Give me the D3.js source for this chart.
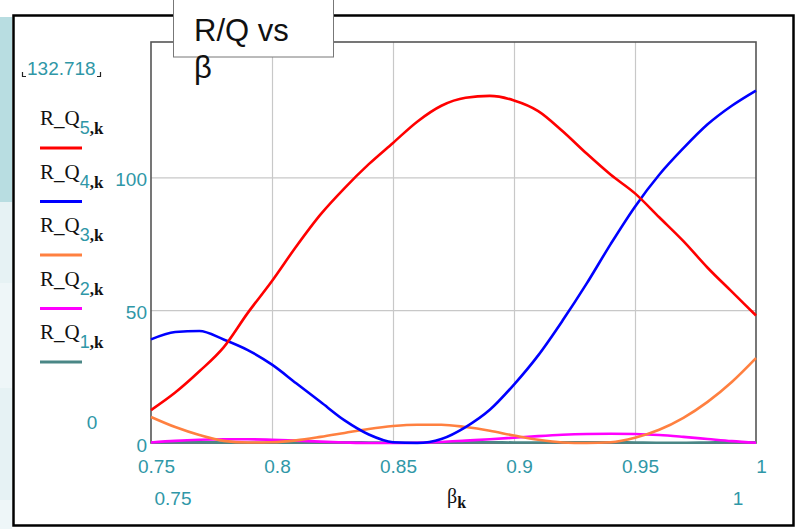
<!DOCTYPE html>
<html>
<head>
<meta charset="utf-8">
<script src="https://cdn.jsdelivr.net/npm/d3@7"></script>
<style>
  html, body { margin: 0; padding: 0; background: #ffffff; }
  svg { display: block; }
</style>
</head>
<body>
<svg id="chart" width="804" height="529"></svg>
<script>
// β sample points (k index)
const beta = [0.75, 0.76, 0.77, 0.78, 0.79, 0.80, 0.81, 0.82, 0.83, 0.84, 0.85, 0.86, 0.87,
              0.88, 0.89, 0.90, 0.91, 0.92, 0.93, 0.94, 0.95, 0.96, 0.97, 0.98, 0.99, 1.00];

// R/Q of each mode vs β
const rq5 = [12.4, 19, 27, 36, 49, 61, 74, 86, 96, 105, 113, 121, 127,
             130, 130.7, 129, 125, 117.5, 109, 101, 94, 85, 76, 66, 57, 48];
const rq4 = [39, 41.8, 42.2, 39, 35, 29.5, 22.5, 15.5, 8.5, 3.2, 0.3, 0, 1.5,
             6, 12.5, 22, 33, 46, 60, 75, 89, 101, 111, 120, 127, 132.718];
const rq3 = [9.8, 6, 3, 0.8, 0.2, 0.3, 1, 2.3, 3.8, 5.3, 6.4, 6.9, 6.9,
             6, 4.6, 2.8, 1.2, 0.2, 0, 0.3, 2, 5, 9.5, 15.5, 23, 32];
const rq2 = [0.2, 0.8, 1.2, 1.4, 1.4, 1.2, 0.9, 0.5, 0.2, 0, 0, 0.1, 0.4,
             0.9, 1.4, 2.0, 2.6, 3.1, 3.4, 3.5, 3.4, 3.0, 2.3, 1.5, 0.7, 0.1];
const rq1 = [0.2, 0.3, 0.3, 0.2, 0.1, 0.1, 0.2, 0.3, 0.3, 0.2, 0.1, 0.1, 0.2,
             0.3, 0.3, 0.2, 0.2, 0.3, 0.3, 0.3, 0.2, 0.1, 0.1, 0.2, 0.3, 0.3];

const seriesNames = ["5", "4", "3", "2", "1"];
const seriesColors = ["#ff0000", "#0000ff", "#ff8040", "#ff00ff", "#4a8786"];
const seriesValues = [rq5, rq4, rq3, rq2, rq1];

const xTicks = [0.75, 0.8, 0.85, 0.9, 0.95, 1];
const xTickLabels = ["0.75", "0.8", "0.85", "0.9", "0.95", "1"];
const yTicks = [0, 50, 100];
const yTickLabels = ["0", "50", "100"];
const yMaxLabel = "132.718";
const yMinLabel = "0";
const xMinLabel = "0.75";
const xMaxLabel = "1";

const teal = "#2f97a7";
const sans = "'Liberation Sans', Arial, sans-serif";
const serif = "'Liberation Serif', 'Times New Roman', serif";
const svg = d3.select("#chart");

// side strip
const strip = [[17, 202, "#b8dde1"], [202, 283, "#e6f2f4"], [283, 388, "#eef6f8"],
               [388, 500, "#e6f2f4"], [500, 529, "#eef6f8"]];
svg.selectAll("rect.strip").data(strip).enter().append("rect")
  .attr("class", "strip").attr("x", 0).attr("width", 12)
  .attr("y", d => d[0]).attr("height", d => d[1] - d[0]).attr("fill", d => d[2]);

// outer frame
svg.append("rect").attr("x", 13.5).attr("y", 15.5).attr("width", 780).attr("height", 510)
  .attr("fill", "#ffffff").attr("stroke", "#000").attr("stroke-width", 2.5);

const L = 151, R = 756, T = 42, B = 443;
const x = d3.scaleLinear().domain([0.75, 1]).range([L, R]);
const y = d3.scaleLinear().domain([0, 151]).range([B, T]);

const plot = svg.append("g");
plot.append("rect").attr("x", L).attr("y", T).attr("width", R - L).attr("height", B - T)
  .attr("fill", "#fff");

// grid
plot.append("g").attr("transform", `translate(0,${B})`)
  .call(d3.axisBottom(x).tickValues(xTicks.slice(1, -1)).tickSize(-(B - T)).tickFormat(""))
  .call(g => g.select(".domain").remove())
  .call(g => g.selectAll("line").attr("stroke", "#c8c8c8").attr("stroke-width", 1.2));
plot.append("g").attr("transform", `translate(${L},0)`)
  .call(d3.axisLeft(y).tickValues(yTicks.slice(1)).tickSize(-(R - L)).tickFormat(""))
  .call(g => g.select(".domain").remove())
  .call(g => g.selectAll("line").attr("stroke", "#c8c8c8").attr("stroke-width", 1.2));

// plot box
plot.append("rect").attr("x", L).attr("y", T).attr("width", R - L).attr("height", B - T)
  .attr("fill", "none").attr("stroke", "#555").attr("stroke-width", 1.6);

// curves
const line = d3.line().x((d, i) => x(beta[i])).y(d => y(d)).curve(d3.curveMonotoneX);
const order = [4, 3, 2, 1, 0];
plot.selectAll("path.trace").data(order).enter().append("path")
  .attr("class", "trace")
  .attr("d", i => line(seriesValues[i]))
  .attr("fill", "none")
  .attr("stroke", i => seriesColors[i])
  .attr("stroke-width", 2.6);

// x tick labels
const xa = svg.append("g").attr("transform", `translate(0,${B})`)
  .call(d3.axisBottom(x).tickValues(xTicks).tickSize(0)
    .tickFormat((d, i) => xTickLabels[i]));
xa.select(".domain").remove();
xa.selectAll("text").attr("dx", 5).attr("dy", 0).attr("y", 30)
  .attr("fill", teal).style("font", `19px ${sans}`);

// y tick labels
const ya = svg.append("g").attr("transform", `translate(${L},0)`)
  .call(d3.axisLeft(y).tickValues(yTicks).tickSize(0)
    .tickFormat((d, i) => yTickLabels[i]));
ya.select(".domain").remove();
ya.selectAll("text").attr("x", -4).attr("dy", "0.45em")
  .attr("fill", teal).style("font", `19px ${sans}`);

// axis limit fields
svg.append("text").attr("x", 27).attr("y", 75).attr("fill", teal)
  .style("font", `19px ${sans}`).text(yMaxLabel);
svg.append("path").attr("d", "M22.5,72 V76.5 H26 M100.5,72 V76.5 H97")
  .attr("fill", "none").attr("stroke", "#222").attr("stroke-width", 1.2);
svg.append("text").attr("x", 92).attr("y", 429).attr("text-anchor", "middle").attr("fill", teal)
  .style("font", `19px ${sans}`).text(yMinLabel);
svg.append("text").attr("x", 173).attr("y", 505).attr("text-anchor", "middle").attr("fill", teal)
  .style("font", `19px ${sans}`).text(xMinLabel);
svg.append("text").attr("x", 738).attr("y", 505).attr("text-anchor", "middle").attr("fill", teal)
  .style("font", `19px ${sans}`).text(xMaxLabel);

// x variable name
const xv = svg.append("text").attr("x", 447).attr("y", 503).attr("fill", "#111")
  .style("font", `20px ${serif}`);
xv.append("tspan").text("β");
xv.append("tspan").attr("dy", 5).style("font", `bold 16px ${serif}`).text("k");

// legend
const leg = svg.append("g");
seriesNames.forEach((n, i) => {
  const by = 125 + i * 53.5;
  const t = leg.append("text").attr("x", 40).attr("y", by).attr("fill", "#111")
    .style("font", `21px ${serif}`);
  t.append("tspan").text("R_Q");
  t.append("tspan").attr("dy", 9).attr("fill", teal).style("font", `18px ${sans}`).text(n);
  t.append("tspan").style("font", `bold 17px ${serif}`).attr("fill", "#111").text(",k");
  leg.append("line").attr("x1", 40).attr("x2", 82).attr("y1", by + 23).attr("y2", by + 23)
    .attr("stroke", seriesColors[i]).attr("stroke-width", 3);
});

// title box
svg.append("rect").attr("x", 173.5).attr("y", -1).attr("width", 160).attr("height", 58)
  .attr("fill", "#fff").attr("stroke", "#777").attr("stroke-width", 1);
const title = svg.append("text").attr("fill", "#111")
  .style("font", `31px ${sans}`);
title.append("tspan").attr("x", 194).attr("y", 41).text("R/Q vs");
title.append("tspan").attr("x", 194).attr("y", 78).text("β");
</script>
</body>
</html>
